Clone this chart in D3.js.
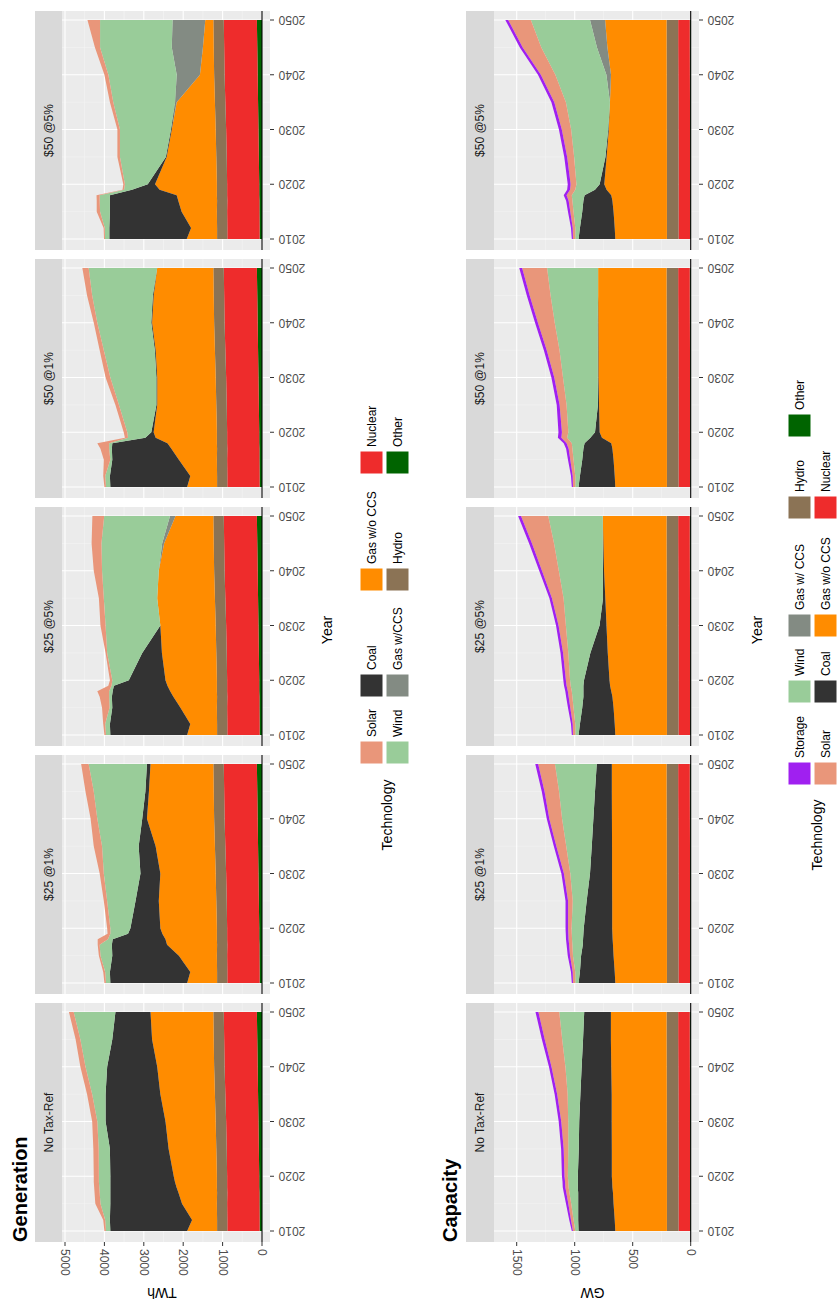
<!DOCTYPE html>
<html><head><meta charset="utf-8">
<script src="https://cdn.jsdelivr.net/npm/d3@7"></script>
<style>body{margin:0;background:#fff}text{font-family:"Liberation Sans",Arial,sans-serif}</style>
</head><body>
<svg id="c" width="837" height="1306"></svg>
<script>
const years=[2010,2012,2015,2017,2018,2019,2020,2025,2030,2035,2040,2045,2050];
const scenarios=["No Tax-Ref","$25 @1%","$25 @5%","$50 @1%","$50 @5%"];
const genTechs=["Other","Nuclear","Hydro","Gas w/o CCS","Gas w/CCS","Coal","Wind","Solar"];
const capTechs=["Other","Nuclear","Hydro","Gas w/o CCS","Gas w/ CCS","Coal","Wind","Solar","Storage"];
const colors={"Solar":"#E9967A","Wind":"#99CC99","Coal":"#333333","Gas w/CCS":"#838B83","Gas w/ CCS":"#838B83","Gas w/o CCS":"#FF8C00","Hydro":"#8B7355","Nuclear":"#EE2C2C","Other":"#006400","Storage":"#A020F0"};
const genTicks=[0,1000,2000,3000,4000,5000];
const capTicks=[0,500,1000,1500];
const yearTicks=[2010,2020,2030,2040,2050];

// Generation (TWh) shared
const genOther=[60,60,65,65,70,70,70,80,90,100,110,120,130];
const genNuclear=[820,820,820,815,815,815,815,815,820,830,840,840,840];
const genHydro=[260,260,260,260,260,260,260,265,265,265,265,265,265];
// Generation per scenario
const genGas=[[760,635,885,980,1025,1065,1095,1210,1275,1385,1445,1565,1595],
 [760,680,965,1270,1305,1385,1435,1460,1405,1505,1705,1645,1595],
 [760,680,925,1110,1185,1255,1305,1380,1405,1465,1405,1260,960],
 [760,680,965,1160,1255,1555,1605,1500,1485,1505,1575,1525,1425],
 [770,660,895,985,1020,1455,1570,1260,1115,970,360,275,205]];
const genCCS=[[0,0,0,0,0,0,0,0,0,0,0,0,0],[0,0,0,0,0,0,0,0,0,0,0,0,0],
 [0,0,0,0,0,0,0,0,0,0,0,50,140],[0,0,0,0,0,0,0,0,0,0,0,0,0],
 [0,0,0,0,0,0,0,0,0,30,590,790,830]];
const genCoal=[[1950,2085,1820,1730,1680,1640,1610,1490,1520,1390,1270,1010,890],
 [1950,2040,1690,1400,1340,870,760,590,505,430,120,90,90],
 [1950,2040,1730,1560,1460,1360,930,500,0,0,0,0,0],
 [1950,2040,1690,1510,1400,260,60,20,20,20,20,20,0],
 [1965,2075,1820,1735,1695,700,185,20,20,10,0,0,0]];
const genWind=[[110,120,250,270,280,290,290,285,210,340,550,810,1060],
 [110,120,300,310,120,450,510,720,930,930,1140,1310,1480],
 [110,120,70,70,90,60,420,890,1390,1355,1440,1540,1670],
 [110,120,50,70,80,440,610,950,1170,1295,1370,1540,1740],
 [110,115,250,260,260,200,580,1165,1295,1570,1735,1820,1840]];
const genSolar=[[40,50,130,130,130,130,130,135,130,130,130,120,120],
 [40,50,40,50,260,70,80,85,105,210,170,210,190],
 [40,50,190,240,300,80,60,40,130,125,210,250,300],
 [40,50,165,220,300,80,90,90,120,105,90,130,160],
 [25,30,85,75,80,40,40,65,65,85,100,130,320]];

// Capacity (GW) shared
const capOther=[5,5,5,5,5,5,5,5,6,6,7,8,8];
const capNuclear=[100,100,100,100,100,100,100,100,100,100,100,100,100];
const capHydro=[100,100,100,100,100,100,100,100,100,100,100,100,100];
const capGas=[[445,450,460,465,470,472,475,475,475,475,478,480,480],
 [445,450,460,465,468,470,472,472,472,472,472,472,472],
 [445,450,460,470,480,490,495,510,520,530,540,545,550],
 [445,450,460,470,480,560,580,585,590,590,590,590,590],
 [445,450,460,470,480,520,540,520,500,490,480,510,530]];
const capCCS=[[0,0,0,0,0,0,0,0,0,0,0,0,0],[0,0,0,0,0,0,0,0,0,0,0,0,0],
 [0,0,0,0,0,0,0,0,0,0,0,0,0],[0,0,0,0,0,0,0,0,0,0,0,0,0],
 [0,0,0,0,0,0,0,0,0,0,40,90,130]];
const capCoal=[[317,315,305,300,298,295,293,285,280,270,255,240,230],
 [317,300,280,260,255,250,245,220,190,175,160,145,130],
 [317,300,270,250,240,230,220,150,60,20,10,5,0],
 [317,300,270,250,230,100,40,10,5,5,5,0,0],
 [317,300,270,250,230,100,40,10,5,0,0,0,0]];
const capWind=[[28,40,60,75,80,83,86,90,95,110,140,180,215],
 [28,40,70,90,95,100,105,120,170,220,270,310,360],
 [28,40,75,95,100,110,120,190,290,340,380,420,470],
 [28,40,75,95,110,200,230,270,300,330,370,410,440],
 [28,40,75,95,110,170,200,270,320,380,440,480,510]];
const capSolar=[[20,22,25,27,28,28,29,40,60,90,120,150,180],
 [20,22,25,28,30,30,30,40,55,85,110,125,145],
 [20,22,28,32,34,35,36,45,63,100,145,190,235],
 [20,22,28,32,45,50,55,60,75,110,145,180,215],
 [20,22,28,32,45,45,50,60,80,100,125,160,195]];
const capStorage=[[10,15,20,22,22,22,22,22,22,22,22,25,25],
 [10,15,20,22,22,22,22,22,22,22,22,24,25],
 [10,15,20,22,22,22,22,22,22,22,24,25,25],
 [10,15,20,22,25,30,30,25,25,25,25,25,25],
 [10,15,20,22,25,25,25,25,25,25,25,25,25]];

const svg=d3.select("#c");

function rows(s,isCap){
  return years.map((y,i)=>{
    const r={year:y};
    if(!isCap){
      r["Other"]=genOther[i];r["Nuclear"]=genNuclear[i];r["Hydro"]=genHydro[i];
      r["Gas w/o CCS"]=genGas[s][i];r["Gas w/CCS"]=genCCS[s][i];r["Coal"]=genCoal[s][i];
      r["Wind"]=genWind[s][i];r["Solar"]=genSolar[s][i];
    }else{
      r["Other"]=capOther[i];r["Nuclear"]=capNuclear[i];r["Hydro"]=capHydro[i];
      r["Gas w/o CCS"]=capGas[s][i];r["Gas w/ CCS"]=capCCS[s][i];r["Coal"]=capCoal[s][i];
      r["Wind"]=capWind[s][i];r["Solar"]=capSolar[s][i];r["Storage"]=capStorage[s][i];
    }
    return r;});
}

function drawRow(cfg){
  const xs=d3.scaleLinear().domain(cfg.vdom).range(cfg.vrange);
  const ticks=cfg.ticks;
  const minor=ticks.slice(0,-1).map((t,i)=>(t+ticks[i+1])/2);
  scenarios.forEach((name,s)=>{
    const y0=1231-248*s;
    const ys=d3.scaleLinear().domain([2010,2050]).range([y0,y0-219]);
    const top=ys(2050)-9, bot=ys(2010)+11;
    const g=svg.append("g");
    g.append("rect").attr("x",cfg.px0).attr("y",top).attr("width",cfg.px1-cfg.px0).attr("height",bot-top).attr("fill","#EBEBEB");
    g.append("rect").attr("x",cfg.sx0).attr("y",top).attr("width",cfg.px0-cfg.sx0).attr("height",bot-top).attr("fill","#D9D9D9");
    minor.forEach(v=>g.append("line").attr("x1",xs(v)).attr("x2",xs(v)).attr("y1",top).attr("y2",bot).attr("stroke","#F5F5F5").attr("stroke-width",0.6));
    [2015,2025,2035,2045].forEach(v=>g.append("line").attr("y1",ys(v)).attr("y2",ys(v)).attr("x1",cfg.px0).attr("x2",cfg.px1).attr("stroke","#F5F5F5").attr("stroke-width",0.6));
    ticks.forEach(v=>g.append("line").attr("x1",xs(v)).attr("x2",xs(v)).attr("y1",top).attr("y2",bot).attr("stroke","#fff").attr("stroke-width",1.1));
    yearTicks.forEach(v=>g.append("line").attr("y1",ys(v)).attr("y2",ys(v)).attr("x1",cfg.px0).attr("x2",cfg.px1).attr("stroke","#fff").attr("stroke-width",1.1));
    const st=d3.stack().keys(cfg.techs)(rows(s,cfg.isCap));
    const area=d3.area().y(d=>ys(d.data.year)).x0(d=>xs(d[0])).x1(d=>xs(d[1]));
    g.selectAll(null).data(st).join("path").attr("d",area).attr("fill",d=>colors[d.key]);
    g.append("line").attr("x1",xs(0)).attr("x2",xs(0)).attr("y1",top).attr("y2",bot).attr("stroke","#000").attr("stroke-width",1.1);
    g.append("text").attr("transform",`translate(${(cfg.sx0+cfg.px0)/2},${(top+bot)/2}) rotate(-90)`)
      .attr("text-anchor","middle").attr("dominant-baseline","central").attr("font-size",12).attr("fill","#1A1A1A").text(name);
    yearTicks.forEach(v=>{
      g.append("line").attr("x1",cfg.px1).attr("x2",cfg.px1+4).attr("y1",ys(v)).attr("y2",ys(v)).attr("stroke","#333");
      g.append("text").attr("transform",`translate(${cfg.px1+22},${ys(v)}) rotate(180)`).attr("text-anchor","middle")
        .attr("dominant-baseline","central").attr("font-size",12).attr("fill","#4D4D4D").text(v);
    });
  });
  const bot0=1231+11;
  ticks.forEach(v=>{
    svg.append("line").attr("x1",xs(v)).attr("x2",xs(v)).attr("y1",bot0).attr("y2",bot0+4).attr("stroke","#333");
    svg.append("text").attr("transform",`translate(${xs(v)},${bot0+7}) rotate(90)`).attr("text-anchor","start")
      .attr("dominant-baseline","central").attr("font-size",12).attr("fill","#4D4D4D").text(v);
  });
  svg.append("text").attr("transform",`translate(${(cfg.px0+cfg.px1)/2-4},1293) rotate(180)`).attr("text-anchor","middle")
    .attr("dominant-baseline","central").attr("font-size",14).text(cfg.unit);
  svg.append("text").attr("transform",`translate(${cfg.yearX},630) rotate(-90)`).attr("text-anchor","middle")
    .attr("dominant-baseline","central").attr("font-size",14).text("Year");
  svg.append("text").attr("transform",`translate(${cfg.titleX},1242) rotate(-90)`).attr("text-anchor","start")
    .attr("font-size",20).attr("font-weight","bold").text(cfg.title);
  const L=cfg.legend;
  svg.append("text").attr("transform",`translate(${L.titleX},${L.titleY}) rotate(-90)`).attr("text-anchor","middle")
    .attr("dominant-baseline","central").attr("font-size",14).text("Technology");
  L.items.forEach((it,k)=>{
    const col=Math.floor(k/2), row=k%2;
    const kx=L.rows[row], ky=L.cols[col];
    svg.append("rect").attr("x",kx).attr("y",ky).attr("width",23).attr("height",23).attr("fill",colors[it]).attr("stroke","#fff").attr("stroke-width",1);
    svg.append("text").attr("transform",`translate(${kx+11.5},${ky-4}) rotate(-90)`).attr("text-anchor","start")
      .attr("dominant-baseline","central").attr("font-size",12).text(it);
  });
}

drawRow({isCap:false,techs:genTechs,vdom:[0,5000],vrange:[262,65],ticks:genTicks,px0:62,px1:270,sx0:35,
  unit:"TWh",yearX:327,titleX:27,title:"Generation",
  legend:{titleX:387,titleY:815,rows:[360,386],cols:[741,674,568,451],
    items:["Solar","Wind","Coal","Gas w/CCS","Gas w/o CCS","Hydro","Nuclear","Other"]}});
drawRow({isCap:true,techs:capTechs,vdom:[0,1500],vrange:[690.7,516.7],ticks:capTicks,px0:494,px1:699,sx0:466,
  unit:"GW",yearX:757,titleX:457,title:"Capacity",
  legend:{titleX:817,titleY:835,rows:[788,814],cols:[762,680,614,496,414],
    items:["Storage","Solar","Wind","Coal","Gas w/ CCS","Gas w/o CCS","Hydro","Nuclear","Other"]}});
</script></body></html>
